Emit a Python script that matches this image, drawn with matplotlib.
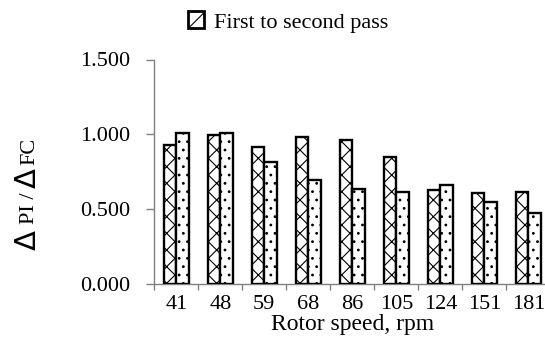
import matplotlib
matplotlib.use("Agg")
import matplotlib.pyplot as plt
import numpy as np
from matplotlib.patches import Patch

plt.rcParams['font.family'] = ['Liberation Serif', 'DejaVu Serif']
plt.rcParams['hatch.linewidth'] = 0.8

# Rotor speed categories and the PI/FC ratio for the two passes
speeds = ["41", "48", "59", "68", "86", "105", "124", "151", "181"]
pass_a = [0.927, 0.993, 0.918, 0.980, 0.962, 0.849, 0.626, 0.606, 0.613]
pass_b = [1.011, 1.007, 0.814, 0.695, 0.638, 0.616, 0.659, 0.546, 0.473]
y_ticks = [0.0, 0.5, 1.0, 1.5]
y_tick_labels = ["0.000", "0.500", "1.000", "1.500"]
legend_label = "First to second pass"

W, H = 545, 349
fig = plt.figure(figsize=(W / 100, H / 100), dpi=100)
ax = fig.add_axes([154.3 / W, 1 - 284 / H, 396 / W, 224.5 / H])

x = np.arange(len(speeds)) + 0.5
bw = 0.286
ax.bar(x - bw / 2, pass_a, width=bw, facecolor='white', edgecolor='black',
       linewidth=1.7, hatch='xx', zorder=3)
ax.bar(x + bw / 2, pass_b, width=bw, facecolor='white', edgecolor='black',
       linewidth=1.7, hatch='..', zorder=3)

ax.set_xlim(0, len(speeds))
ax.set_ylim(0, 1.5)

axis_grey = '#808080'
for side in ('top', 'right'):
    ax.spines[side].set_visible(False)
for side in ('left', 'bottom'):
    ax.spines[side].set_color(axis_grey)
    ax.spines[side].set_linewidth(1.0)

ax.set_yticks(y_ticks)
ax.set_yticklabels(y_tick_labels, fontsize=16)
ax.tick_params(axis='y', direction='out', length=5.5, width=1.0,
               color=axis_grey, pad=12)

# boundaries between groups carry tick marks, group centres carry labels
ax.set_xticks(np.arange(len(speeds) + 1))
ax.set_xticklabels([])
ax.set_xticks(x, minor=True)
ax.set_xticklabels(speeds, minor=True, fontsize=16)
ax.tick_params(axis='x', which='major', direction='out', length=4.5,
               width=1.0, color=axis_grey)
ax.tick_params(axis='x', which='minor', length=0, pad=8)

ax.set_xlabel("Rotor speed, rpm", fontsize=17, labelpad=0)

# y-axis label built from pieces with different sizes
def px(xp, yp):
    return xp / W, 1 - yp / H

pieces = [("Δ", 240, 28, 21, 'DejaVu Sans'),
          ("PI /", 208, 30, 16, 'Liberation Serif'),
          ("Δ", 178, 28, 21, 'DejaVu Sans'),
          ("FC", 151, 30, 16, 'Liberation Serif')]
for txt, yp, xp, fs, fam in pieces:
    fx, fy = px(xp, yp)
    fig.text(fx, fy, txt, rotation=90, ha='center', va='center',
             fontsize=fs, family=fam)

handle = Patch(facecolor='white', edgecolor='black', hatch='//', linewidth=2.0)
fig.legend(handles=[handle], labels=[legend_label], loc='center',
           bbox_to_anchor=px(288, 22), frameon=False, fontsize=16,
           handlelength=0.75, handleheight=0.8, handletextpad=0.45,
           borderpad=0, borderaxespad=0)

fig.savefig("out.png", dpi=100)
